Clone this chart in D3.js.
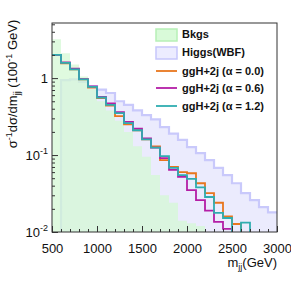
<!DOCTYPE html>
<html>
<head>
<meta charset="utf-8">
<script src="https://cdn.jsdelivr.net/npm/d3@7"></script>
<style>
  body { margin: 0; background: #fff; }
  text { font-family: "Liberation Sans", Arial, sans-serif; }
</style>
</head>
<body>
<div id="chart"></div>
<script>
// bin lower edges (GeV), 100 GeV wide, last bin ends at 3000
var binLo = [500, 600, 700, 800, 900, 1000, 1100, 1200, 1300, 1400, 1500, 1600, 1700,
             1800, 1900, 2000, 2100, 2200, 2300, 2400, 2500, 2600, 2700, 2800, 2900];
var xMax = 3000;

// normalised distributions (per 100 GeV), 0 = empty bin
var bkgs    = [3.2, 2.1, 1.5, 1.05, 0.72, 0.5, 0.38, 0.28, 0.2, 0.13, 0.095, 0.055, 0.03,
               0.024, 0.014, 0.013, 0.012, 0, 0, 0, 0, 0, 0, 0, 0];
var wbf     = [0, 0.94, 0.96, 0.89, 0.79, 0.71, 0.64, 0.5, 0.45, 0.38, 0.33, 0.29, 0.23,
               0.19, 0.157, 0.127, 0.106, 0.086, 0.068, 0.055, 0.043, 0.032, 0.026, 0.021, 0.018];
var ggh00   = [2.0, 1.56, 1.3, 0.96, 0.75, 0.55, 0.44, 0.32, 0.25, 0.21, 0.16, 0.13, 0.086,
               0.07, 0.06, 0.058, 0.043, 0.032, 0.024, 0.016, 0.0127, 0, 0, 0, 0];
var ggh06   = [2.0, 1.6, 1.33, 0.97, 0.78, 0.57, 0.47, 0.36, 0.27, 0.22, 0.165, 0.125, 0.091,
               0.064, 0.052, 0.035, 0.026, 0.019, 0.0135, 0.011, 0, 0, 0, 0, 0];
var ggh12   = [2.0, 1.58, 1.3, 0.96, 0.77, 0.56, 0.45, 0.35, 0.26, 0.21, 0.16, 0.125, 0.097,
               0.068, 0.055, 0.049, 0.038, 0.0285, 0.0177, 0.0152, 0, 0.0132, 0, 0, 0];

var xTicks = [500, 1000, 1500, 2000, 2500, 3000];
var xMinor = [600, 700, 800, 900, 1100, 1200, 1300, 1400, 1600, 1700, 1800, 1900,
              2100, 2200, 2300, 2400, 2600, 2700, 2800, 2900];
var yTicks = [0.01, 0.1, 1];
var yTickExp = ["-2", "-1", ""];
var yMinor = [0.02, 0.03, 0.04, 0.05, 0.06, 0.07, 0.08, 0.09,
              0.2, 0.3, 0.4, 0.5, 0.6, 0.7, 0.8, 0.9, 2, 3, 4, 5];

var legendLabels = ["Bkgs", "Higgs(WBF)", "ggH+2j (\u03b1 = 0.0)", "ggH+2j (\u03b1 = 0.6)", "ggH+2j (\u03b1 = 1.2)"];
var lineColors = ["#e8761e", "#b41ea6", "#2fadb0"];

var margin = { top: 23, right: 14, bottom: 59, left: 52 };
var width = 291 - margin.left - margin.right;
var height = 291 - margin.top - margin.bottom;

var svg = d3.select("#chart").append("svg")
  .attr("width", 291)
  .attr("height", 291);

var g = svg.append("g")
  .attr("transform", "translate(" + margin.left + "," + margin.top + ")");

var x = d3.scaleLinear().domain([500, xMax]).range([0, width]);
var y = d3.scaleLog().domain([0.01, 5.2]).range([height, 0]);

function yv(v) { return v > 0 ? y(v) : height + 20; }

// step points including the closing edge
function steps(vals) {
  var pts = binLo.map(function(b, i) { return [b, vals[i]]; });
  pts.push([xMax, vals[vals.length - 1]]);
  return pts;
}

svg.append("defs").append("clipPath").attr("id", "clip")
  .append("rect").attr("width", width).attr("height", height);

var plot = g.append("g").attr("clip-path", "url(#clip)");

var area = d3.area()
  .curve(d3.curveStepAfter)
  .x(function(d) { return x(d[0]); })
  .y0(height + 20)
  .y1(function(d) { return yv(d[1]); });

var line = d3.line()
  .curve(d3.curveStepAfter)
  .x(function(d) { return x(d[0]); })
  .y(function(d) { return yv(d[1]); });

// Higgs(WBF) underneath
plot.append("path")
  .datum(steps(wbf))
  .attr("fill", "#ebebfd")
  .attr("d", area);

plot.append("path")
  .datum(steps(wbf))
  .attr("fill", "none")
  .attr("stroke", "#c9c9fb")
  .attr("stroke-width", 2.2)
  .attr("d", line);

// Bkgs on top, slightly see-through
plot.append("path")
  .datum(steps(bkgs))
  .attr("fill", "#d2f8d2")
  .attr("fill-opacity", 0.72)
  .attr("d", area);

// ggH+2j lines
[ggh00, ggh06, ggh12].forEach(function(s, i) {
  plot.append("path")
    .datum(steps(s))
    .attr("fill", "none")
    .attr("stroke", lineColors[i])
    .attr("stroke-width", 1.8)
    .attr("d", line);
});

// frame
g.append("rect")
  .attr("width", width)
  .attr("height", height)
  .attr("fill", "none")
  .attr("stroke", "#333")
  .attr("stroke-width", 1);

// x axis ticks (inward)
g.append("g")
  .attr("transform", "translate(0," + height + ")")
  .call(d3.axisBottom(x).tickValues(xTicks).tickSize(-6).tickPadding(12).tickFormat(d3.format("d")))
  .call(function(a) {
    a.select(".domain").remove();
    a.selectAll("line").attr("stroke", "#333");
    a.selectAll("text").attr("font-size", 13).attr("fill", "#111")
      .attr("font-family", "Liberation Sans, Arial, sans-serif");
  });

g.append("g")
  .attr("transform", "translate(0," + height + ")")
  .call(d3.axisBottom(x).tickValues(xMinor).tickSize(-3).tickFormat(""))
  .call(function(a) {
    a.select(".domain").remove();
    a.selectAll("line").attr("stroke", "#333");
  });

// y axis ticks (inward)
g.append("g")
  .call(d3.axisLeft(y).tickValues(yTicks).tickSize(-6).tickFormat(""))
  .call(function(a) {
    a.select(".domain").remove();
    a.selectAll("line").attr("stroke", "#333");
  });

g.append("g")
  .call(d3.axisLeft(y).tickValues(yMinor).tickSize(-3).tickFormat(""))
  .call(function(a) {
    a.select(".domain").remove();
    a.selectAll("line").attr("stroke", "#333");
  });

// y tick labels with exponents
yTicks.forEach(function(t, i) {
  var lab = g.append("text")
    .attr("x", -4)
    .attr("y", y(t) + 5)
    .attr("text-anchor", "end")
    .attr("font-size", 13)
    .attr("fill", "#111");
  if (yTickExp[i] === "") {
    lab.text("1");
  } else {
    lab.append("tspan").text("10");
    lab.append("tspan").attr("dy", -6).attr("font-size", 9).text(yTickExp[i]);
  }
});

// axis titles
var xt = svg.append("text")
  .attr("x", 277)
  .attr("y", 267)
  .attr("text-anchor", "end")
  .attr("font-size", 13)
  .attr("fill", "#111");
xt.append("tspan").text("m");
xt.append("tspan").attr("dy", 3).attr("font-size", 9).text("jj");
xt.append("tspan").attr("dy", -3).text("(GeV)");

var yt = svg.append("text")
  .attr("transform", "translate(17,84) rotate(-90)")
  .attr("text-anchor", "middle")
  .attr("font-size", 13)
  .attr("fill", "#111");
yt.append("tspan").text("\u03c3");
yt.append("tspan").attr("dy", -5).attr("font-size", 9).text("-1");
yt.append("tspan").attr("dy", 5).text("d\u03c3/dm");
yt.append("tspan").attr("dy", 3).attr("font-size", 9).text("jj");
yt.append("tspan").attr("dy", -3).text(" (100");
yt.append("tspan").attr("dy", -5).attr("font-size", 9).text("-1");
yt.append("tspan").attr("dy", 5).text(" GeV)");

// legend
var leg = svg.append("g");
var legY = [34, 52, 71, 88, 106];
leg.append("rect").attr("x", 156).attr("y", 29).attr("width", 21).attr("height", 12)
  .attr("fill", "#d9fad9").attr("stroke", "#b6f0b6").attr("stroke-width", 1.5);
leg.append("rect").attr("x", 156).attr("y", 47).attr("width", 21).attr("height", 12)
  .attr("fill", "#ececff").attr("stroke", "#c6c6fb").attr("stroke-width", 1.5);
lineColors.forEach(function(c, i) {
  leg.append("line")
    .attr("x1", 156).attr("x2", 177)
    .attr("y1", legY[i + 2]).attr("y2", legY[i + 2])
    .attr("stroke", c).attr("stroke-width", 1.8);
});
legendLabels.forEach(function(l, i) {
  leg.append("text")
    .attr("x", 182)
    .attr("y", legY[i] + 4)
    .attr("font-size", 11)
    .attr("font-weight", "bold")
    .attr("fill", "#111")
    .text(l);
});
</script>
</body>
</html>
